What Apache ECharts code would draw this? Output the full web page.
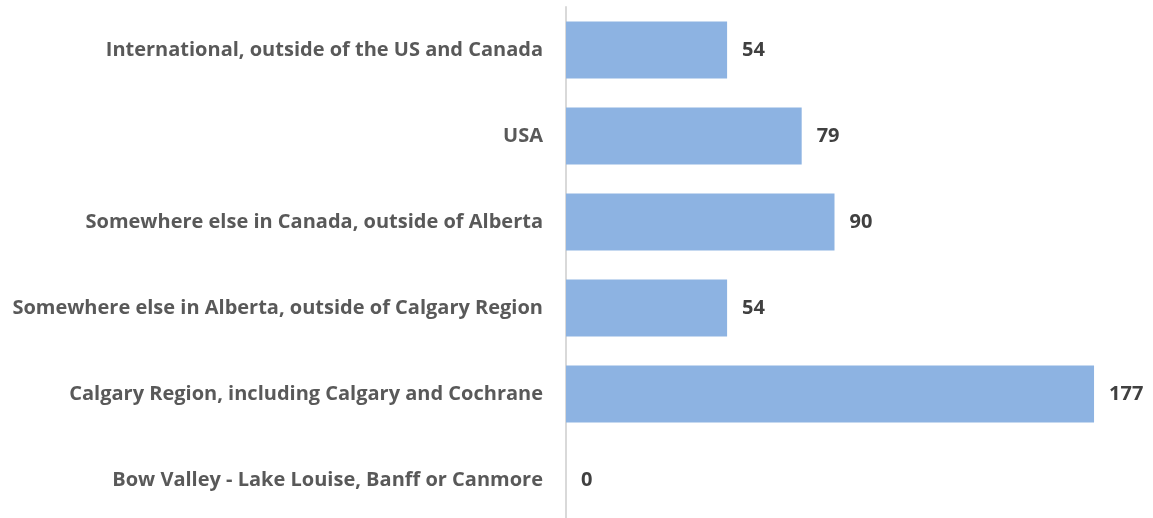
<!DOCTYPE html>
<html>
<head>
<meta charset="utf-8">
<script src="https://cdn.jsdelivr.net/npm/echarts@6/dist/echarts.min.js"></script>
<style>
  html, body { margin: 0; padding: 0; background: #fff; overflow: hidden; }
  #chart { width: 1153px; height: 530px; }
</style>
</head>
<body>
<div id="chart"></div>
<script>
// categories listed bottom to top (category axis starts at the bottom)
var regions = [
  'Bow Valley - Lake Louise, Banff or Canmore',
  'Calgary Region, including Calgary and Cochrane',
  'Somewhere else in Alberta, outside of Calgary Region',
  'Somewhere else in Canada, outside of Alberta',
  'USA',
  'International, outside of the US and Canada'
];
var respondents = [0, 177, 54, 90, 79, 54];

var chart = echarts.init(document.getElementById('chart'));
var fontName = 'Open Sans';

var option = {
  animation: false,
  grid: { left: 566, right: 50, top: 7, height: 516 },
  xAxis: {
    type: 'value',
    min: 0,
    max: 180,
    show: false
  },
  yAxis: {
    type: 'category',
    data: regions,
    axisLine: { show: true, lineStyle: { color: '#d9d9d9', width: 2 } },
    axisTick: { show: false },
    axisLabel: {
      margin: 23,
      padding: [4, 0, 0, 0],
      color: '#595959',
      fontFamily: fontName,
      fontWeight: 'bold',
      fontSize: 20
    }
  },
  series: [
    {
      type: 'bar',
      data: respondents,
      barWidth: '66%',
      itemStyle: { color: '#8db3e2' },
      label: {
        show: true,
        position: 'right',
        distance: 15,
        padding: [4, 0, 0, 0],
        color: '#404040',
        fontFamily: fontName,
        fontWeight: 'bold',
        fontSize: 20
      }
    }
  ]
};

option && chart.setOption(option);
</script>
</body>
</html>
